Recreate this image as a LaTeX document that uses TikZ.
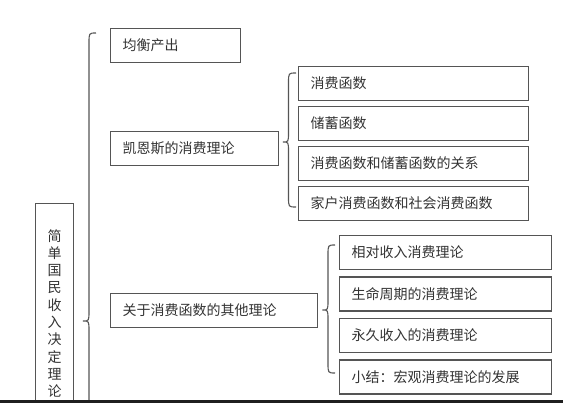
\documentclass[tikz,border=0pt]{standalone}
\usepackage{fontspec}
\newfontfamily\cjk{Noto Sans CJK SC}
\definecolor{linec}{HTML}{555555}
\definecolor{textc}{HTML}{333333}
\tikzset{
  bx/.style={draw=linec, line width=1.2pt, inner xsep=12pt, inner ysep=0pt,
    align=left, anchor=north west, minimum height=34pt, text width=#1,
    text=textc, font=\cjk\fontsize{14}{16}\selectfont},
  brc/.style={draw=linec, line width=1.1pt}
}
\begin{document}
\begin{tikzpicture}[x=1pt,y=-1pt]
\useasboundingbox (0,0) rectangle (563,403);
\clip (0,0) rectangle (563,403);
\fill[white] (0,0) rectangle (563,403);
% root box
\node[draw=linec, line width=1.2pt, anchor=north west, minimum width=38pt, minimum height=230pt, inner sep=0pt] (root) at (35,203) {};
\node[anchor=north, inner sep=0pt, align=center, text=textc, font=\cjk\fontsize{14}{17.3}\selectfont] (rootlabel) at (54.5,229) {简\\单\\国\\民\\收\\入\\决\\定\\理\\论};
% level 1
\node[bx=106pt] (A) at (110,28) {均衡产出};
\node[bx=144pt] (B) at (110,131) {凯恩斯的消费理论};
\node[bx=183pt] (C) at (110,293) {关于消费函数的其他理论};
% level 2 under B
\node[bx=206pt] (B1) at (298,66) {消费函数};
\node[bx=206pt] (B2) at (298,106) {储蓄函数};
\node[bx=206pt] (B3) at (298,146) {消费函数和储蓄函数的关系};
\node[bx=206pt] (B4) at (298,186) {家户消费函数和社会消费函数};
% level 2 under C
\node[bx=188pt] (C1) at (339,235) {相对收入消费理论};
\node[bx=188pt] (C2) at (339,276.5) {生命周期的消费理论};
\node[bx=188pt] (C3) at (339,318) {永久收入的消费理论};
\node[bx=188pt] (C4) at (339,359.5) {小结：宏观消费理论的发展};
% braces
\draw[brc] (96,33) .. controls (89,33) .. (89,43) -- (89,311)
  .. controls (89,321) .. (83,321) .. controls (89,321) .. (89,331) -- (89,600);
\draw[brc] (296,73) .. controls (288.5,73) .. (288.5,83) -- (288.5,132)
  .. controls (288.5,142) .. (283,142) .. controls (288.5,142) .. (288.5,152) -- (288.5,197)
  .. controls (288.5,207) .. (296,207);
\draw[brc] (335,245) .. controls (328,245) .. (328,255) -- (328,300)
  .. controls (328,310) .. (322.5,310) .. controls (328,310) .. (328,320) -- (328,363)
  .. controls (328,373) .. (335,373);
% bottom dark strip
\fill[black!88] (0,400.5) rectangle (563,403);
\end{tikzpicture}
\end{document}
